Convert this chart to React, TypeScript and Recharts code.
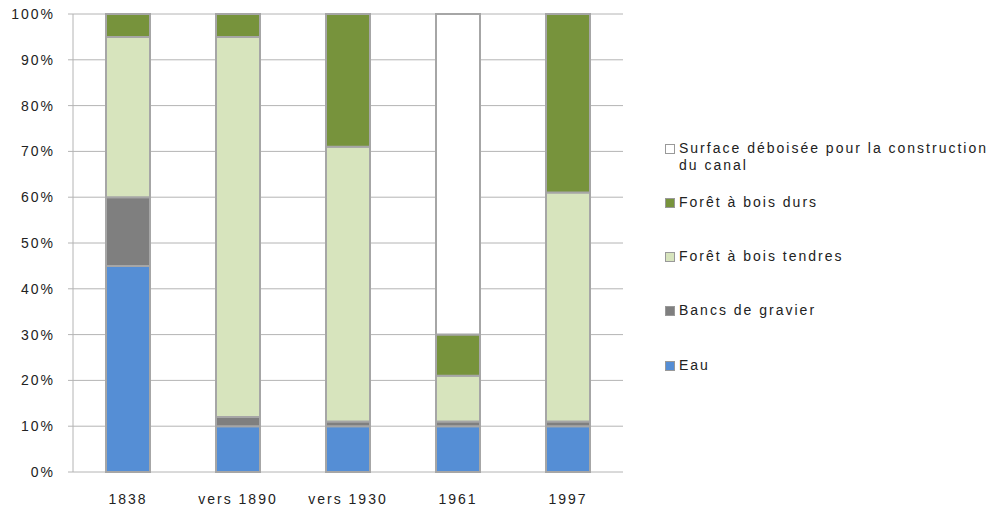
import React from 'react';
import { BarChart, Bar, XAxis, YAxis, CartesianGrid, Legend } from 'recharts';

const categories = ['1838', 'vers 1890', 'vers 1930', '1961', '1997'];
const eau = [45, 10, 10, 10, 10];
const bancs = [15, 2, 1, 1, 1];
const tendres = [35, 83, 60, 10, 50];
const durs = [5, 5, 29, 9, 39];
const surface = [0, 0, 0, 70, 0];
const yTicks = [0, 10, 20, 30, 40, 50, 60, 70, 80, 90, 100];
const boundaryTicks = [0, 1, 2, 3, 4, 5];

const series = [
  { key: 'eau', name: 'Eau', color: '#558ed5', values: eau },
  { key: 'bancs', name: 'Bancs de gravier', color: '#7f7f7f', values: bancs },
  { key: 'tendres', name: 'Forêt à bois tendres', color: '#d7e4bd', values: tendres },
  { key: 'durs', name: 'Forêt à bois durs', color: '#77933c', values: durs },
  { key: 'surface', name: 'Surface déboisée pour la construction du canal', color: '#ffffff', values: surface },
];

const data = categories.map((c, i) => {
  const row: Record<string, string | number> = { name: c };
  series.forEach((s) => (row[s.key] = s.values[i]));
  return row;
});

const GRID = '#b4b4b4';
const FONT = '"Liberation Sans", Arial, sans-serif';
const tickStyle = { fill: '#222', fontSize: 14, fontFamily: FONT, letterSpacing: 2 };

const LegendBox = () => (
  <div style={{ fontFamily: FONT, fontSize: 14, lineHeight: '17px', color: '#222', letterSpacing: 2 }}>
    {[...series].reverse().map((s) => (
      <div key={s.key} style={{ display: 'flex', alignItems: 'flex-start', height: 54.25 }}>
        <div
          style={{
            width: 8,
            height: 8,
            marginTop: 4,
            marginRight: 4,
            background: s.color,
            border: '1px solid #999',
            flexShrink: 0,
          }}
        />
        <div style={{ width: 318 }}>{s.name}</div>
      </div>
    ))}
  </div>
);

export default function App() {
  return (
    <div style={{ position: 'absolute', left: 0, top: 0, width: 993, height: 506, background: '#fff' }}>
      <BarChart
        width={993}
        height={506}
        data={data}
        margin={{ top: 14, right: 370, bottom: 0, left: 0 }}
        barSize={44}
      >
        <CartesianGrid vertical={false} stroke={GRID} xAxisId="cat" />
        <XAxis
          xAxisId="grid"
          type="number"
          domain={[0, 5]}
          ticks={boundaryTicks}
          tick={false}
          axisLine={false}
          tickLine={{ stroke: GRID }}
          tickSize={6}
          height={6}
        />
        <XAxis
          xAxisId="cat"
          dataKey="name"
          axisLine={false}
          tickLine={false}
          tickSize={0}
          tickMargin={22}
          height={28}
          tick={tickStyle}
        />
        <YAxis
          domain={[0, 100]}
          ticks={yTicks}
          tickFormatter={(v) => `${v}%`}
          width={73}
          axisLine={{ stroke: GRID }}
          tickLine={{ stroke: GRID }}
          tickSize={5}
          tickMargin={13}
          tick={tickStyle}
        />
        <Legend
          layout="vertical"
          align="center"
          verticalAlign="middle"
          content={<LegendBox />}
          wrapperStyle={{ left: 665, top: 139.5, width: 328 }}
        />
        {series.map((s) => (
          <Bar
            key={s.key}
            xAxisId="cat"
            dataKey={s.key}
            name={s.name}
            stackId="a"
            fill={s.color}
            stroke="#a6a6a6"
            strokeWidth={2}
            isAnimationActive={false}
          />
        ))}
      </BarChart>
    </div>
  );
}
